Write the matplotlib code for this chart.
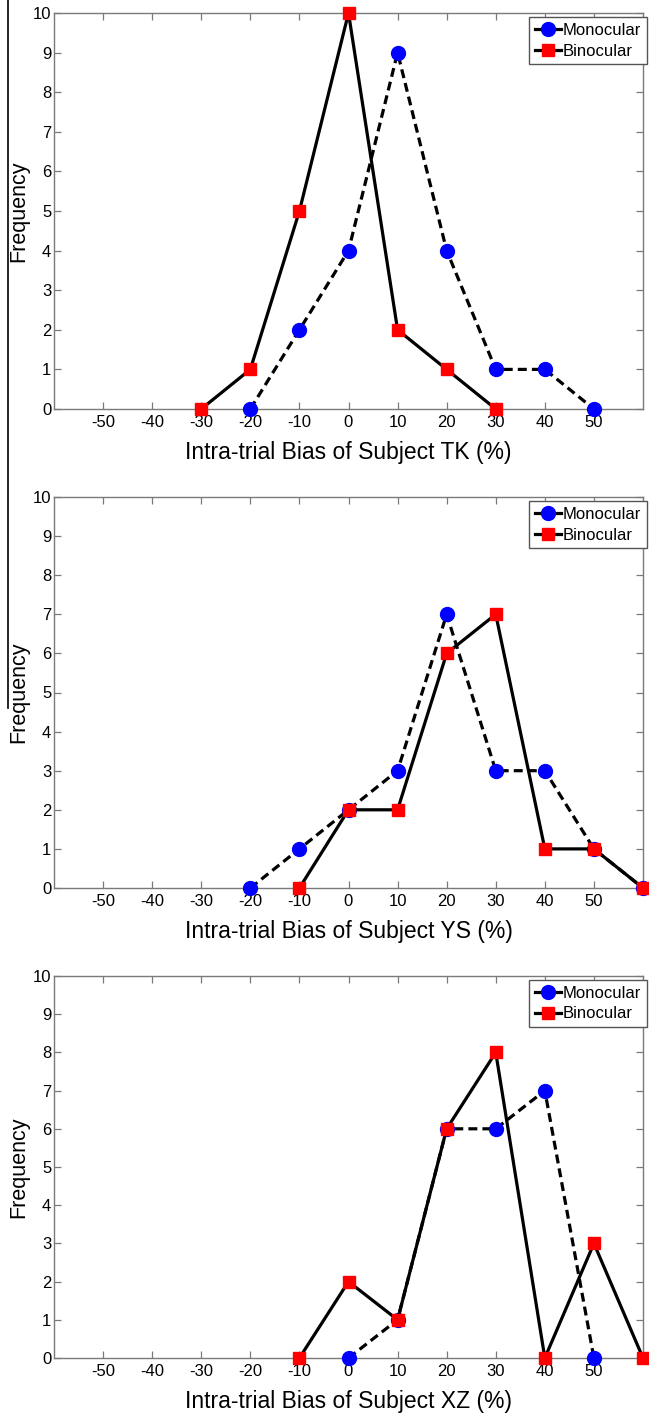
import matplotlib
matplotlib.use("Agg")
import matplotlib.pyplot as plt
from matplotlib.lines import Line2D

plt.rcParams['font.family'] = ['Liberation Sans', 'DejaVu Sans']

# ---- data ----
subjects = ["TK", "YS", "XZ"]
x_ticks = [-50, -40, -30, -20, -10, 0, 10, 20, 30, 40, 50]
y_ticks = [0, 1, 2, 3, 4, 5, 6, 7, 8, 9, 10]

tk_mono_x = [-20, -10, 0, 10, 20, 30, 40, 50]
tk_mono_y = [0, 2, 4, 9, 4, 1, 1, 0]
tk_bino_x = [-30, -20, -10, 0, 10, 20, 30]
tk_bino_y = [0, 1, 5, 10, 2, 1, 0]

ys_mono_x = [-20, -10, 0, 10, 20, 30, 40, 50, 60]
ys_mono_y = [0, 1, 2, 3, 7, 3, 3, 1, 0]
ys_bino_x = [-10, 0, 10, 20, 30, 40, 50, 60]
ys_bino_y = [0, 2, 2, 6, 7, 1, 1, 0]

xz_mono_x = [0, 10, 20, 30, 40, 50]
xz_mono_y = [0, 1, 6, 6, 7, 0]
xz_bino_x = [-10, 0, 10, 20, 30, 40, 50, 60]
xz_bino_y = [0, 2, 1, 6, 8, 0, 3, 0]

mono = [(tk_mono_x, tk_mono_y), (ys_mono_x, ys_mono_y), (xz_mono_x, xz_mono_y)]
bino = [(tk_bino_x, tk_bino_y), (ys_bino_x, ys_bino_y), (xz_bino_x, xz_bino_y)]

W, H = 649, 1419
fig = plt.figure(figsize=(W / 100, H / 100), dpi=100)

# (top, bottom) in pixels for each panel
panels_px = [(13, 409), (497, 888), (976, 1358)]
left_px, right_px = 54, 643
spine_col = '#7a7a7a'

for i, (top, bot) in enumerate(panels_px):
    ax = fig.add_axes([left_px / W, 1 - bot / H, (right_px - left_px) / W, (bot - top) / H])
    mx, my = mono[i]
    bx, by = bino[i]
    ax.plot(mx, my, color='black', lw=2.3, ls=(0, (2.8, 1.6)), marker='o',
            markersize=10, markerfacecolor='blue', markeredgecolor='blue',
            clip_on=False, zorder=3)
    ax.plot(bx, by, color='black', lw=2.3, ls='-', marker='s',
            markersize=9, markerfacecolor='red', markeredgecolor='red',
            clip_on=False, zorder=4)
    ax.set_xlim(-60, 60)
    ax.set_ylim(0, 10)
    ax.set_xticks(x_ticks)
    ax.set_yticks(y_ticks)
    ax.set_xticklabels([str(v) for v in x_ticks])
    ax.set_yticklabels([str(v) for v in y_ticks])
    ax.tick_params(direction='in', length=5, width=0.9, color=spine_col,
                   labelsize=12, top=True, right=True)
    ax.tick_params(axis='x', pad=4)
    ax.tick_params(axis='y', pad=2)
    for s in ax.spines.values():
        s.set_color(spine_col)
        s.set_linewidth(1.0)
    ax.set_xlabel(f"Intra-trial Bias of Subject {subjects[i]} (%)", fontsize=16.5, labelpad=8)
    ax.set_ylabel("Frequency", fontsize=15.5)
    ax.yaxis.set_label_coords(-(54 - 29) / (right_px - left_px), 0.5)

    handles = [
        Line2D([0], [0], color='black', lw=2.3, marker='o', markersize=10,
               markerfacecolor='blue', markeredgecolor='blue'),
        Line2D([0], [0], color='black', lw=2.3, marker='s', markersize=9,
               markerfacecolor='red', markeredgecolor='red'),
    ]
    leg = ax.legend(handles, ["Monocular", "Binocular"], loc='upper right',
                    bbox_to_anchor=(1.007, 0.99), borderaxespad=0, fontsize=12,
                    handlelength=1.6, handletextpad=0.1, borderpad=0.35,
                    labelspacing=0.35, fancybox=False, framealpha=1)
    leg.get_frame().set_edgecolor('#555555')
    leg.get_frame().set_linewidth(1.0)

# stray vertical line at the left edge
fig.add_artist(Line2D([8 / W, 8 / W], [1.0, 1 - 708 / H], color='black', lw=1.2,
                      transform=fig.transFigure))

fig.savefig("out.png", dpi=100)
